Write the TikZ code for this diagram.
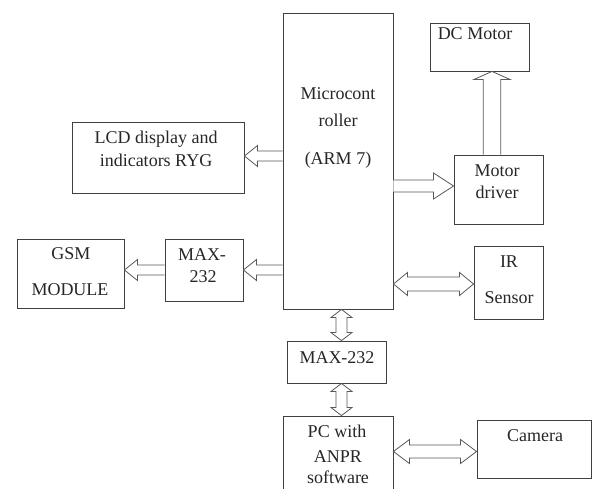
\documentclass[tikz,border=0pt]{standalone}
\usepackage{fontspec}
\setmainfont{Liberation Serif}
\usetikzlibrary{calc,fit}
\tikzset{
  box/.style={draw=black!75, line width=0.9pt, inner sep=0pt},
  lbl/.style={anchor=base, inner sep=0pt, font=\fontsize{18}{22}\selectfont, text=black!85},
  blk/.style={draw=black!65, line width=0.8pt, fill=white, line join=miter}
}
\newcommand\hsarrow[5]{%
\draw[blk] let \p1=#1, \p2=#2, \n1={(\x2>\x1)?1:-1} in
 (\x1,{\y1+#3}) -- ({\x2-(\n1)*#5},{\y1+#3}) -- ({\x2-(\n1)*#5},{\y1+#4}) -- (\x2,\y1)
 -- ({\x2-(\n1)*#5},{\y1-#4}) -- ({\x2-(\n1)*#5},{\y1-#3}) -- (\x1,{\y1-#3});}
\newcommand\vsarrow[5]{%
\draw[blk] let \p1=#1, \p2=#2, \n1={(\y2>\y1)?1:-1} in
 ({\x1+#3},\y1) -- ({\x1+#3},{\y2-(\n1)*#5}) -- ({\x1+#4},{\y2-(\n1)*#5}) -- (\x1,\y2)
 -- ({\x1-#4},{\y2-(\n1)*#5}) -- ({\x1-#3},{\y2-(\n1)*#5}) -- ({\x1-#3},\y1);}
\newcommand\hdarrow[5]{%
\draw[blk] let \p1=#1, \p2=#2, \n1={(\x2>\x1)?1:-1} in
 (\x1,\y1) -- ({\x1+(\n1)*#5},{\y1+#4}) -- ({\x1+(\n1)*#5},{\y1+#3}) -- ({\x2-(\n1)*#5},{\y1+#3})
 -- ({\x2-(\n1)*#5},{\y1+#4}) -- (\x2,\y1) -- ({\x2-(\n1)*#5},{\y1-#4}) -- ({\x2-(\n1)*#5},{\y1-#3})
 -- ({\x1+(\n1)*#5},{\y1-#3}) -- ({\x1+(\n1)*#5},{\y1-#4}) -- cycle;}
\newcommand\vdarrow[5]{%
\draw[blk] let \p1=#1, \p2=#2, \n1={(\y2>\y1)?1:-1} in
 (\x1,\y1) -- ({\x1+#4},{\y1+(\n1)*#5}) -- ({\x1+#3},{\y1+(\n1)*#5}) -- ({\x1+#3},{\y2-(\n1)*#5})
 -- ({\x1+#4},{\y2-(\n1)*#5}) -- (\x1,\y2) -- ({\x1-#4},{\y2-(\n1)*#5}) -- ({\x1-#3},{\y2-(\n1)*#5})
 -- ({\x1-#3},{\y1+(\n1)*#5}) -- ({\x1-#4},{\y1+(\n1)*#5}) -- cycle;}
\begin{document}
\begin{tikzpicture}[x=1pt,y=-1pt]
\useasboundingbox (0,0) rectangle (592,489);
\clip (0,0) rectangle (592,489);
% boxes
\node[box, fit={(283,13) (393,309)}] (mc) {};
\node[box, fit={(430,23) (529,71)}] (dc) {};
\node[box, fit={(454,155) (543,224)}] (md) {};
\node[box, fit={(72,122) (244,193)}] (lcd) {};
\node[box, fit={(17,239) (124,308)}] (gsm) {};
\node[box, fit={(165,239) (243,301)}] (maxl) {};
\node[box, fit={(474,246) (543,319)}] (ir) {};
\node[box, fit={(287,341) (386,383)}] (maxb) {};
\node[box, fit={(283,416) (393,500)}] (pc) {};
\node[box, fit={(477,420) (591,478)}] (cam) {};
% labels
\node[lbl] (t1) at (338,100) {Microcont};
\node[lbl] (t2) at (338,127) {roller};
\node[lbl] (t3) at (338,165) {(ARM 7)};
\node[lbl] (t4) at (475,40) {DC Motor};
\node[lbl] (t5) at (497,177) {Motor};
\node[lbl] (t6) at (497,199) {driver};
\node[lbl] (t7) at (156,144) {LCD display and};
\node[lbl] (t8) at (156,167) {indicators RYG};
\node[lbl] (t9) at (71,260) {GSM};
\node[lbl] (t10) at (70,296) {MODULE};
\node[lbl] (t11) at (202,261) {MAX-};
\node[lbl] (t12) at (203,283) {232};
\node[lbl] (t13) at (509,268) {IR};
\node[lbl] (t14) at (509,304) {Sensor};
\node[lbl] (t15) at (337,363) {MAX-232};
\node[lbl] (t16) at (337,437) {PC with};
\node[lbl] (t17) at (338,462) {ANPR};
\node[lbl] (t18) at (338,483) {software};
\node[lbl] (t19) at (535,441) {Camera};
% arrows
\hsarrow{(mc.east |- 0,186)}{(md.west |- 0,186)}{6pt}{13pt}{20pt}
\hsarrow{(mc.west |- 0,156)}{(lcd.east |- 0,156)}{5pt}{10.5pt}{13pt}
\hsarrow{(mc.west |- 0,270)}{(maxl.east |- 0,270)}{5pt}{10.5pt}{13pt}
\hsarrow{(maxl.west |- 0,270)}{(gsm.east |- 0,270)}{5pt}{10.5pt}{13pt}
\vsarrow{(md.north -| 492,0)}{(dc.south -| 492,0)}{8.7pt}{18pt}{8pt}
\hdarrow{(mc.east |- 0,284)}{(ir.west |- 0,284)}{7pt}{11.5pt}{14pt}
\vdarrow{(mc.south -| 341.5,0)}{(maxb.north -| 341.5,0)}{5.5pt}{10.5pt}{8pt}
\vdarrow{(maxb.south -| 341.5,0)}{(pc.north -| 341.5,0)}{5.5pt}{10.5pt}{8pt}
\hdarrow{(pc.east |- 0,451.5)}{(cam.west |- 0,451.5)}{6.5pt}{12pt}{16pt}
\end{tikzpicture}
\end{document}
